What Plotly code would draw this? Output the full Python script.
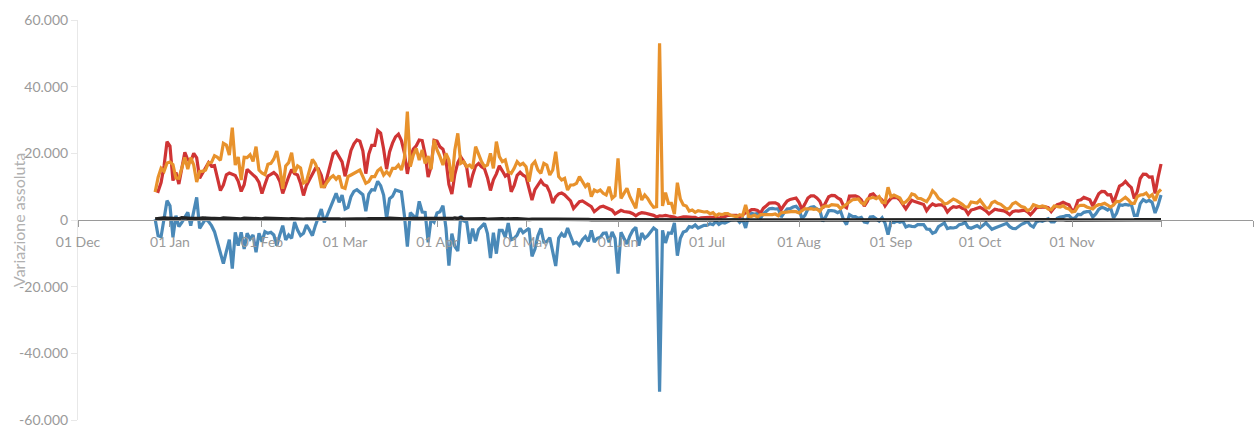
import pandas as pd
import plotly.graph_objects as go

START = "2020-12-27"

# nuovi positivi (red)
nuovi_positivi = (
    [8913, 8585, 11212, 16202, 23477]
    + [22211, 11831, 14245, 10800, 15378, 20331, 18020, 17533, 19978, 18627,
       12532, 14242, 15774, 17246, 16146, 16310, 12545, 8825, 10497, 13571,
       14078, 13633, 13331, 11629, 8562, 10593, 15204, 14372, 13574, 12715, 11252]
    + [7925, 10630, 13189, 13659, 14218, 13442, 11641, 7970, 10630, 12956,
       15146, 13908, 13532, 11068, 7351, 10386, 12074, 13762, 15479, 15370,
       13452, 9630, 13314, 16424, 19886, 20499, 18916, 17455]
    + [13114, 17083, 20884, 22865, 24036, 23641, 20765, 13902, 19749, 22409,
       22409, 26824, 26062, 21315, 15267, 20396, 23059, 24935, 25735, 23832,
       20159, 13846, 18765, 21267, 22273, 23987, 23839, 19611, 12916, 16017, 23904]
    + [23649, 21932, 21261, 18025, 10680, 7767, 13708, 17221, 18938, 17567,
       15746, 9789, 13447, 16168, 16974, 15943, 15370, 12694, 8864, 12074,
       13844, 16232, 14761, 13158, 13817, 8444, 10404, 13385, 14320, 13446]
    + [12965, 9148, 5948, 9116, 10585, 11807, 10554, 10176, 8292, 5080,
       6946, 7852, 8085, 7567, 6659, 5753, 3455, 4452, 5506, 5741,
       5218, 4717, 3995, 2490, 3224, 3937, 4147, 3738, 3351, 2949, 1820]
    + [2483, 2897, 2557, 2436, 2275, 1894, 1273, 1896, 2199, 2079,
       1901, 1723, 1390, 907, 1255, 1199, 1400, 1197, 1058, 881,
       495, 835, 951, 927, 753, 786, 778, 389, 679, 776]
    + [882, 794, 808, 932, 480, 907, 1010, 1394, 1390, 1400,
       1391, 888, 1552, 2153, 2455, 3127, 3121, 2898, 2072, 3558,
       4259, 5057, 5143, 5140, 4743, 3117, 4522, 5696, 6171, 6513, 6599]
    + [5321, 3190, 4845, 6596, 7230, 7270, 6599, 5664, 3512, 5273,
       6968, 7409, 7336, 6635, 6157, 4199, 3667, 7162, 7260, 7224,
       6860, 6025, 4168, 5559, 7548, 7826, 6860, 6761, 6025, 4257, 5498]
    + [6503, 6761, 6735, 5959, 4664, 3361, 4720, 5923, 5522, 5193,
       4997, 4664, 2800, 4021, 4830, 4362, 4552, 4578, 3982, 2407,
       3377, 3970, 3797, 4061, 3525, 3212, 1772, 2985, 3212, 3405]
    + [3804, 3312, 2766, 1832, 2466, 3235, 3048, 2935, 2748, 2278,
       1597, 2494, 2772, 2668, 2732, 2983, 2437, 1597, 2535, 3702,
       3794, 3882, 3908, 3725, 2535, 3655, 4598, 4866, 5335, 4878, 4575]
    + [2818, 3265, 5830, 6046, 6764, 6435, 6078, 4197, 6032, 7891,
       8569, 8516, 7569, 7632, 5144, 7698, 10172, 10638, 11555, 10544,
       9709, 6404, 8516, 12448, 13764, 13686, 12877, 12932, 7975, 12764]
    + [16806]
)

# dimessi guariti (orange)
dimessi_guariti = (
    [8400, 12800, 15500, 14600, 17100]
    + [17400, 16600, 12600, 12500, 15400, 18800, 15300, 18700, 16500, 11400,
       14600, 14600, 15000, 17200, 17300, 19300, 18800, 17900, 23000, 22500,
       19500, 27700, 16500, 18900, 12000, 18800, 18700, 19600, 17600, 22000, 15000]
    + [14100, 13600, 16700, 17000, 18300, 20700, 15800, 9400, 16200, 17200,
       20200, 14200, 16200, 15600, 11100, 11600, 14800, 18200, 16900, 14600,
       10000, 10000, 11400, 12600, 13300, 12200, 13300, 9800]
    + [9500, 13000, 13500, 14000, 14600, 15000, 13000, 11000, 11500, 13000,
       13000, 14800, 15500, 13500, 14500, 13500, 15500, 15500, 16500, 15000,
       18500, 32500, 16000, 19500, 21500, 18000, 21000, 17000, 19200, 15200, 24000]
    + [21000, 19000, 16500, 20000, 18000, 11500, 21000, 26000, 17000, 17500,
       16000, 16500, 15500, 22000, 19500, 17500, 16000, 16500, 20000, 15500,
       23500, 19000, 17500, 18000, 14500, 14000, 15500, 17500, 16500, 17000]
    + [16000, 11500, 16500, 17500, 15000, 14000, 17000, 16500, 13500, 15000,
       20500, 13000, 12000, 12500, 9000, 10500, 10500, 11000, 13000, 11500,
       10000, 11000, 7000, 9000, 8500, 9000, 8000, 7500, 10000, 6500, 7300]
    + [18500, 6500, 8000, 9500, 7000, 5000, 3500, 9500, 6000, 7500,
       6500, 5000, 3800, 4000, 53000, 4200, 8200, 5000, 5000, 1800,
       11200, 6300, 4500, 4200, 2700, 3000, 2300, 2800, 2500, 2400]
    + [2500, 1900, 2200, 1300, 1800, 1600, 1900, 1900, 1400, 1300,
       1000, 1600, 1300, 4500, 1100, 1100, 1400, 900, 1600, 1600,
       1500, 1600, 1600, 1800, 1300, 2200, 2300, 2400, 2700, 2600, 2500]
    + [2100, 2800, 3400, 3300, 3400, 3200, 3300, 2600, 3900, 4200,
       4100, 4600, 4600, 4400, 3400, 4100, 5000, 5500, 6100, 6200,
       6300, 5200, 4700, 6300, 6600, 6800, 6400, 7000, 5300, 5200, 9800]
    + [7000, 7500, 7000, 6600, 5000, 5400, 6300, 7800, 7500, 6500,
       6400, 6000, 5500, 6800, 8800, 7900, 6500, 5900, 4800, 5000,
       5600, 6300, 5900, 5400, 4700, 3900, 3900, 5400, 5200, 5100]
    + [6000, 4800, 3600, 3600, 5200, 5600, 5000, 4700, 3900, 3200,
       3600, 4900, 5300, 4500, 4000, 3800, 2800, 3200, 4600, 4300,
       3900, 4200, 4000, 3300, 3100, 4200, 4100, 3900, 4300, 3600, 3300]
    + [2400, 2600, 4100, 4400, 4400, 3900, 3600, 3300, 4200, 4600,
       4700, 5000, 4500, 3900, 4500, 5600, 5500, 6200, 6800, 6000,
       5000, 5000, 7000, 7500, 7600, 8100, 6900, 7600, 5800, 8300]
    + [9200]
)

# variazione totale positivi (blue)
variazione_positivi = (
    [200, -4700, -5000, 1000, 5800]
    + [4300, -5200, 1300, -2000, -700, 1000, 2300, -1700, 3000, 6800,
       -2500, -1000, 300, -500, -1700, -3500, -6700, -9500, -13100, -9400,
       -5900, -14600, -3700, -7700, -3700, -8700, -4000, -5700, -4500, -9700, -4000]
    + [-6500, -3500, -4000, -3700, -4500, -7700, -4500, -1700, -6000, -4500,
       -5500, -600, -3000, -4700, -4000, -1500, -3000, -4700, -1700, 500,
       3300, -700, 1500, 3500, 6300, 8000, 5300, 7500]
    + [3300, 3800, 7000, 8600, 9100, 8300, 7600, 2600, 7800, 9100,
       9000, 11600, 10300, 7500, 400, 6400, 7100, 9000, 8800, 8400,
       1400, -8000, 2200, 1300, 400, 5600, 2400, 2300, -6700, 300, -600]
    + [2100, 2500, 4300, -2300, -13700, -4100, -7900, -9300, 1200, -300,
       -600, -7100, -2600, -6300, -2900, -2000, -1000, -4100, -11400, -3800,
       -10100, -3100, -3100, -5100, -900, -5900, -5500, -4500, -2500, -3800]
    + [-3200, -2500, -10900, -8700, -4700, -2500, -6600, -6500, -5300, -10100,
       -13800, -5400, -4100, -5100, -2400, -4800, -7100, -6700, -7600, -5900,
       -5000, -6400, -3100, -6600, -5500, -5200, -4000, -3900, -6700, -3600, -5500]
    + [-16100, -3700, -5500, -7200, -4800, -3100, -2200, -7700, -3900, -5500,
       -4700, -3400, -2400, -3100, -51500, -3100, -6900, -3900, -4000, -900,
       -10700, -5500, -3600, -3300, -2000, -2200, -1500, -2400, -1900, -1600]
    + [-1600, -1100, -1400, -400, -1300, -700, -900, -500, 0, 100,
       400, -700, 200, -2400, 1300, 2000, 1700, 2000, 500, 1900,
       2700, 3400, 3500, 3300, 3400, 900, 2200, 3300, 3400, 3900, 4100]
    + [3200, 400, 1400, 3300, 3800, 4000, 3300, 3000, -400, 1000,
       2800, 2800, 2700, 2200, 2700, 100, -1400, 1600, 1100, 1000,
       500, 800, -600, -800, 900, 1000, 400, -300, 700, -1000, -4400]
    + [-600, -800, -300, -700, -400, -2100, -1700, -1900, -2000, -1400,
       -1500, -1400, -2700, -2800, -4000, -3600, -2000, -1400, -900, -2600,
       -2300, -2400, -2200, -1400, -1200, -700, -2200, -2500, -2000, -1700]
    + [-2300, -1500, -900, -1800, -2800, -2400, -2000, -1800, -1200, -1000,
       -2000, -2500, -2600, -1900, -1300, -900, -400, -1600, -2100, -600,
       -200, -400, -100, 400, -600, -600, 500, 900, 1000, 1300, 1300]
    + [400, 600, 1700, 1600, 2300, 2500, 2500, 900, 1800, 3200,
       3800, 3500, 3000, 3700, 600, 2000, 4600, 4400, 4700, 4500,
       4700, 1400, 1400, 4900, 6100, 5500, 5900, 5300, 2100, 4400]
    + [7500]
)

# deceduti (black)
deceduti = (
    [305, 445, 659, 575, 555]
    + [462, 364, 347, 348, 649, 548, 414, 483, 483, 361, 448, 616, 507, 522, 477, 475,
       377, 377, 603, 524, 521, 472, 488, 420, 331, 541, 467, 492, 477, 421, 237]
    + [329, 499, 456, 421, 385, 391, 274, 307, 422, 336, 391, 316, 311, 221, 258, 336,
       347, 347, 353, 293, 232, 274, 356, 318, 308, 253, 280, 190]
    + [258, 343, 347, 339, 297, 307, 207, 318, 376, 332, 373, 380, 317, 264, 354, 502,
       431, 423, 386, 401, 300, 386, 551, 460, 431, 380, 380, 297, 417, 467, 467]
    + [501, 376, 376, 326, 296, 421, 627, 487, 718, 344, 331, 358, 476, 469, 429, 429,
       342, 251, 322, 390, 364, 360, 342, 316, 251, 301, 373, 364, 288, 226]
    + [144, 144, 256, 305, 267, 258, 207, 224, 139, 198, 251, 262, 201, 182, 136, 93,
       140, 201, 149, 149, 218, 136, 93, 110, 166, 121, 144, 126, 83, 44, 52]
    + [62, 60, 73, 66, 59, 42, 36, 72, 51, 52, 52, 52, 26, 36, 63, 52, 52, 37, 33, 17,
       21, 23, 30, 21, 23, 28, 14, 22, 42, 24]
    + [21, 24, 12, 14, 9, 31, 25, 25, 13, 12, 7, 11, 19, 13, 18, 10, 7, 3, 7, 10,
       21, 15, 15, 5, 3, 11, 15, 21, 20, 20, 18]
    + [11, 19, 22, 27, 22, 27, 24, 14, 21, 22, 31, 31, 24, 27, 22, 27, 45, 55, 53, 48,
       50, 33, 37, 69, 59, 62, 51, 53, 44, 49, 68]
    + [69, 61, 53, 45, 30, 49, 71, 72, 67, 63, 52, 30, 36, 67, 67, 63, 50, 43, 32, 37,
       63, 67, 58, 52, 40, 33, 35, 63, 52, 52]
    + [50, 39, 34, 27, 50, 48, 43, 39, 31, 30, 35, 40, 40, 39, 41, 36, 24, 35, 39, 41,
       40, 42, 32, 24, 40, 52, 44, 35, 55, 32, 24]
    + [24, 40, 68, 46, 52, 40, 34, 40, 63, 69, 66, 54, 53, 36, 49, 74, 73, 70, 67, 50,
       37, 49, 83, 72, 71, 57, 64, 39, 50, 85]
    + [73]
)

dates = pd.date_range(START, periods=len(nuovi_positivi), freq="D")

x_tickvals = ["2020-12-01", "2021-01-01", "2021-02-01", "2021-03-01", "2021-04-01",
              "2021-05-01", "2021-06-01", "2021-07-01", "2021-08-01", "2021-09-01",
              "2021-10-01", "2021-11-01", "2021-12-01", "2022-01-01"]
x_ticktext = ["01 Dec", "01 Jan", "01 Feb", "01 Mar", "01 Apr", "01 May", "01 Jun",
              "01 Jul", "01 Aug", "01 Sep", "01 Oct", "01 Nov", "", ""]
y_tickvals = [-60000, -40000, -20000, 0, 20000, 40000, 60000]
y_ticktext = ["-60.000", "-40.000", "-20.000", "0", "20.000", "40.000", "60.000"]

series = [
    ("Variazione positivi", variazione_positivi, "#4a89b8", 3.2),
    ("Nuovi positivi", nuovi_positivi, "#cf3434", 3.2),
    ("Dimessi guariti", dimessi_guariti, "#e8922c", 3.2),
    ("Deceduti", deceduti, "#222222", 3.5),
]

fig = go.Figure()
for name, vals, color, w in series:
    fig.add_trace(go.Scatter(
        x=dates[:len(vals)], y=vals, mode="lines", name=name,
        line=dict(color=color, width=w, shape="linear"),
    ))

fig.update_layout(
    width=1256, height=431,
    margin=dict(l=78, r=3, t=20, b=9),
    paper_bgcolor="white", plot_bgcolor="white",
    showlegend=False,
    font=dict(family="Lato, 'Open Sans', sans-serif", color="#999999", size=14),
    separators=",.",
)
fig.update_xaxes(
    type="date", range=["2020-12-01", "2022-01-01"],
    anchor="free", position=0.5,
    showgrid=False, zeroline=False,
    showline=True, linecolor="#9a9a9a", linewidth=1,
    ticks="outside", ticklen=6, tickcolor="#9a9a9a", tickwidth=1,
    tickvals=x_tickvals, ticktext=x_ticktext,
    tickfont=dict(size=14, color="#9a9a9a"),
    ticklabelstandoff=3,
)
fig.update_yaxes(
    range=[-60000, 60000],
    showgrid=False, zeroline=False,
    showline=True, linecolor="#e8e8e8", linewidth=1,
    ticks="outside", ticklen=6, tickcolor="#e8e8e8",
    tickvals=y_tickvals, ticktext=y_ticktext,
    tickfont=dict(size=14, color="#9a9a9a"),
)
fig.add_annotation(
    text="Variazione assoluta", textangle=-90,
    xref="paper", yref="paper", x=0, y=0.5,
    xanchor="center", yanchor="middle", xshift=-60,
    showarrow=False, font=dict(size=16, color="#b0b0b0"),
)

fig.write_html(
    "out.html",
    config={"displayModeBar": False},
    post_script="document.body.style.margin='0';document.body.style.overflow='hidden';",
)
